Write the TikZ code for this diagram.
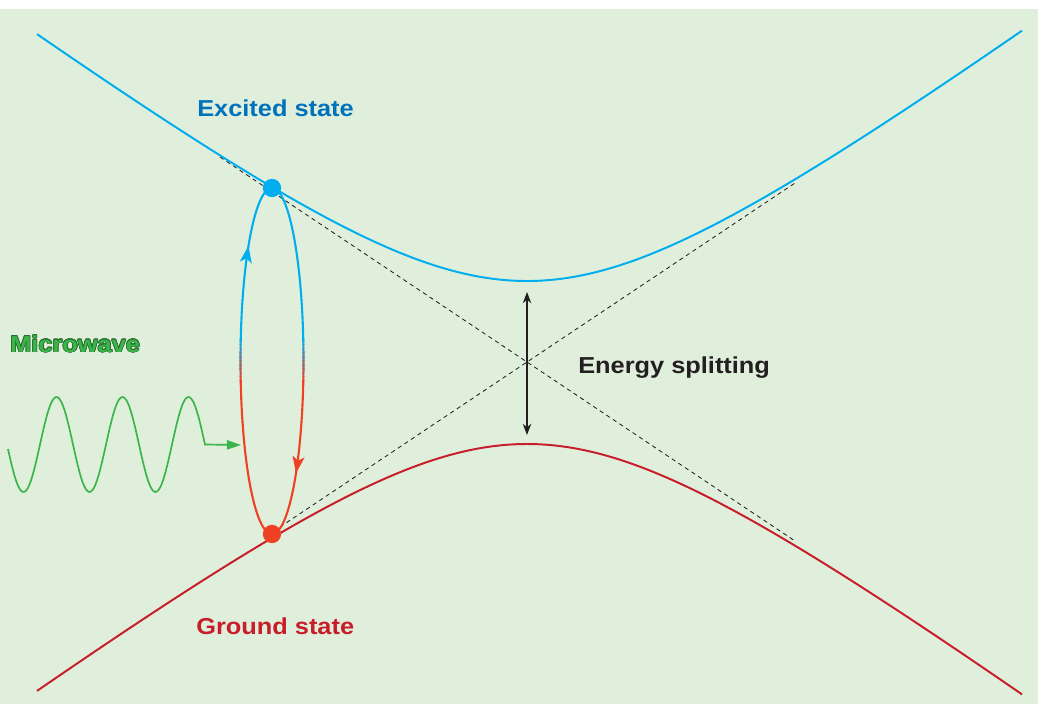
\documentclass[tikz,border=0pt]{standalone}
\usepackage{fontspec}
\usepackage{xcolor}
\usepackage[copies]{contour}
\usepackage{tikz}
\usetikzlibrary{arrows.meta, decorations.markings, positioning, calc}
\newfontfamily\labfont[FakeStretch=1.1]{Liberation Sans}
\definecolor{BgGreen}{HTML}{E0EFDC}
\definecolor{ExcBlue}{HTML}{00AEEF}
\definecolor{ExcText}{HTML}{0072BC}
\definecolor{GndRed}{HTML}{C81E2A}
\definecolor{LoopRed}{HTML}{EF4123}
\definecolor{WaveGreen}{HTML}{3AB54A}
\definecolor{WaveDark}{HTML}{2A6E30}
\definecolor{SplitBlack}{HTML}{231F20}
\contourlength{0.45pt}
\contournumber{16}

\begin{document}
\begin{tikzpicture}[x=0.025cm, y=-0.025cm,
  lab/.style={font=\labfont\bfseries\fontsize{16.4}{19}\selectfont, anchor=base west, inner sep=0pt},
  level/.style={line width=1.4pt},
  asym/.style={SplitBlack, line width=0.6pt, dash pattern=on 3pt off 2.6pt},
  dot/.style={circle, fill, inner sep=0pt, minimum size=13pt},
  loopline/.style={line width=1.5pt, insert path={(gpt) arc[start angle=90, end angle=450, x radius=31.5, y radius=173]}},
  looparrows/.style={postaction={decorate}, decoration={markings,
    mark=at position 0.41 with {\arrow{Stealth[length=12pt,width=8.5pt,inset=3pt]}},
    mark=at position 0.906 with {\arrow{Stealth[length=12pt,width=8.5pt,inset=3pt]}}}},
  ]
  % Background
  \fill[white] (0,0) rectangle (1038,704);
  \fill[BgGreen] (0,9) rectangle (1038,704);
  \useasboundingbox (0,0) rectangle (1038,704);
  % Asymptotes (crossing levels)
  \coordinate (ul) at (220,157);
  \coordinate (lr) at (795,541);
  \coordinate (ll) at (280,527);
  \coordinate (ur) at (795,183);
  \draw[asym] (ul) -- (lr);
  \draw[asym] (ll) -- (ur);
  % Excited and ground levels
  \draw[level, ExcBlue] plot[domain=37:1022, samples=160, smooth]
    (\x, {423-100*sqrt(2.0164+0.546*((\x-527)/100)^2)});
  \draw[level, GndRed] plot[domain=37:1022, samples=160, smooth]
    (\x, {302+100*sqrt(2.0164+0.546*((\x-527)/100)^2)});
  % Energy splitting arrow
  \coordinate (gtop) at (527,292);
  \coordinate (gbot) at (527,435);
  \draw[SplitBlack, line width=0.9pt, {Stealth[length=8pt,width=6pt]}-{Stealth[length=8pt,width=6pt]}] (gtop) -- (gbot);
  % Transition loop, blue on top, red below
  \coordinate (ept) at (272,188);
  \coordinate (gpt) at (272,534);
  \begin{scope}
    \clip (200,150) rectangle (340,341);
    \draw[ExcBlue, loopline, looparrows];
  \end{scope}
  \foreach \i in {0,...,9} {
    \pgfmathsetmacro{\mix}{5+10*\i}
    \begin{scope}
      \clip (200,{340+4*\i}) rectangle (340,{344.6+4*\i});
      \draw[LoopRed!\mix!ExcBlue, loopline];
    \end{scope}
  }
  \begin{scope}
    \clip (200,380) rectangle (340,560);
    \draw[LoopRed, loopline, looparrows];
  \end{scope}
  \node[dot, ExcBlue] (exc) at (ept) {};
  \node[dot, LoopRed] (gnd) at (gpt) {};
  % Microwave drive
  \coordinate (wtip) at (241,445);
  \draw[WaveGreen, line width=1.2pt, -{Triangle[length=10pt,width=6.5pt]}]
    plot[domain=8:205, samples=120, smooth] (\x, {444.5-47.5*cos((\x-56.5)/66*360)}) -- (wtip);
  % Labels
  \node[lab, ExcText] (exclab) at (197,116) {Excited state};
  \node[lab, GndRed] (gndlab) at (196,634) {Ground state};
  \node[lab, SplitBlack] (splitlab) at (578,373) {Energy splitting};
  \node[lab, WaveGreen] (mwlab) at (10,352) {\contour{WaveDark}{Microwave}};
\end{tikzpicture}
\end{document}
